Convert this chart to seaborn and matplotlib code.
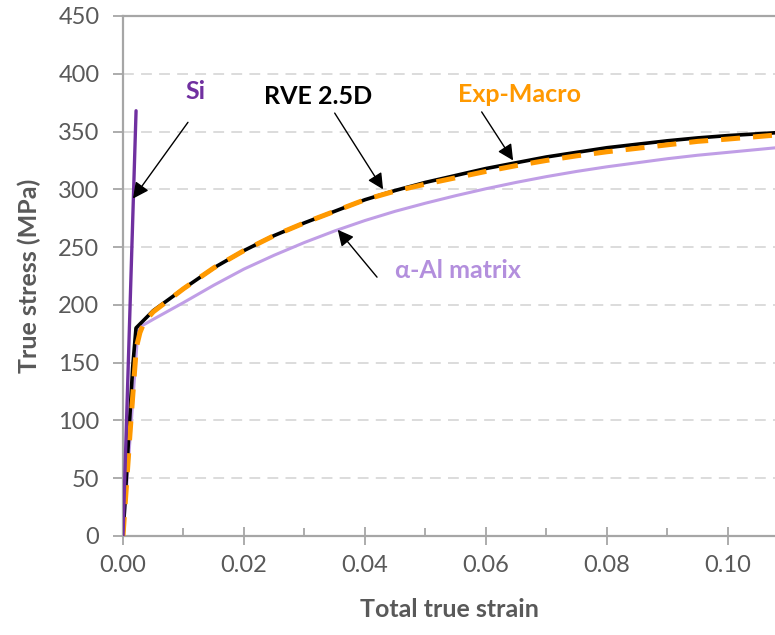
import matplotlib
matplotlib.use("Agg")
import matplotlib.pyplot as plt
import seaborn as sns
import pandas as pd
import numpy as np

# Stress-strain data (strain in -, stress in MPa)
si_strain = [0.0, 0.00216]
si_stress = [0.0, 368.0]

rve_strain = [0.0, 0.0016, 0.00215, 0.005, 0.010, 0.015, 0.020, 0.025,
              0.030, 0.035, 0.040, 0.045, 0.050, 0.055, 0.060, 0.065,
              0.070, 0.075, 0.080, 0.085, 0.090, 0.095, 0.100, 0.108]
rve_stress = [0.0, 146.0, 180.0, 195.0, 214.0, 232.0, 247.0, 260.0,
              271.0, 281.0, 291.0, 299.0, 306.0, 312.0, 318.0, 323.0,
              328.0, 332.0, 336.0, 339.0, 342.0, 344.5, 346.5, 349.0]

exp_strain = [0.0, 0.0012, 0.0022, 0.0028, 0.0035, 0.005, 0.010, 0.015,
              0.020, 0.025, 0.030, 0.035, 0.040, 0.045, 0.050, 0.055,
              0.060, 0.065, 0.070, 0.075, 0.080, 0.085, 0.090, 0.095,
              0.100, 0.108]
exp_stress = [0.0, 92.0, 163.0, 176.0, 185.0, 194.0, 214.0, 232.0,
              247.0, 260.0, 271.0, 281.0, 291.0, 298.5, 304.5, 310.0,
              315.5, 320.5, 325.0, 329.0, 332.5, 335.5, 338.5, 341.5,
              343.5, 347.0]

al_strain = [0.0, 0.0025, 0.005, 0.010, 0.015, 0.020, 0.025, 0.030,
             0.035, 0.040, 0.045, 0.050, 0.055, 0.060, 0.065, 0.070,
             0.075, 0.080, 0.085, 0.090, 0.095, 0.100, 0.108]
al_stress = [0.0, 180.0, 187.5, 202.0, 217.0, 231.0, 243.0, 254.0,
             264.0, 273.0, 281.0, 288.0, 294.5, 300.5, 306.0, 311.0,
             315.5, 319.5, 323.0, 326.5, 329.5, 332.0, 336.0]

x_ticks = [0.00, 0.02, 0.04, 0.06, 0.08, 0.10]
y_ticks = [0, 50, 100, 150, 200, 250, 300, 350, 400, 450]

sns.set_theme(style="white")
plt.rcParams["font.family"] = ["Lato", "DejaVu Sans"]

GREY_TXT = "#595959"
GREY_AX = "#A6A6A6"
C_SI = "#7030A0"
C_AL = "#C09EE6"
C_EXP = "#FF9900"
C_AL_TXT = "#B38FDD"

fig = plt.figure(figsize=(7.75, 6.35), dpi=100)
ax = fig.add_axes([123 / 775, 1 - 536 / 635, 1 - 123 / 775, (536 - 16) / 635])

df_al = pd.DataFrame({"strain": al_strain, "stress": al_stress})
df_rve = pd.DataFrame({"strain": rve_strain, "stress": rve_stress})
df_exp = pd.DataFrame({"strain": exp_strain, "stress": exp_stress})
df_si = pd.DataFrame({"strain": si_strain, "stress": si_stress})

sns.lineplot(data=df_al, x="strain", y="stress", ax=ax, color=C_AL,
             linewidth=2.2, sort=False, estimator=None, zorder=3)
sns.lineplot(data=df_rve, x="strain", y="stress", ax=ax, color="black",
             linewidth=2.6, sort=False, estimator=None, zorder=4)
exp_line = sns.lineplot(data=df_exp, x="strain", y="stress", ax=ax, color=C_EXP,
                        linewidth=3.6, sort=False, estimator=None, zorder=5).lines[-1]
exp_line.set_dashes([3.8, 2.6])
exp_line.set_dash_joinstyle("round")
sns.lineplot(data=df_si, x="strain", y="stress", ax=ax, color=C_SI,
             linewidth=2.4, sort=False, estimator=None, zorder=6)
for ln in ax.lines:
    ln.set_solid_joinstyle("round")

ax.set_xlim(0, 0.1078)
ax.set_ylim(0, 450)
ax.set_xticks(x_ticks)
ax.set_xticklabels([f"{v:.2f}" for v in x_ticks])
ax.set_xticks(np.arange(0.01, 0.11, 0.02), minor=True)
ax.set_yticks(y_ticks)
ax.set_yticklabels([str(v) for v in y_ticks])

# horizontal dashed gridlines
for yv in y_ticks[1:-1]:
    ax.axhline(yv, color="#D9D9D9", linewidth=1.3, dashes=(6, 4), zorder=1)

for side in ["left", "bottom", "top"]:
    ax.spines[side].set_visible(True)
    ax.spines[side].set_color(GREY_AX)
    ax.spines[side].set_linewidth(1.6)
ax.spines["right"].set_visible(False)

ax.tick_params(axis="y", which="major", direction="out", length=7, width=1.3,
               color=GREY_AX, labelcolor=GREY_TXT, labelsize=17, pad=10, left=True)
ax.tick_params(axis="x", which="major", direction="inout", length=13, width=1.3,
               color=GREY_AX, labelcolor=GREY_TXT, labelsize=17, pad=7, bottom=True)
ax.tick_params(axis="x", which="minor", direction="in", length=6, width=1.3,
               color=GREY_AX, bottom=True)

ax.set_xlabel("Total true strain", fontsize=18, fontweight="bold",
              color=GREY_TXT, labelpad=16)
ax.set_ylabel("True stress (MPa)", fontsize=18, fontweight="bold",
              color=GREY_TXT, labelpad=12)

arrow = dict(arrowstyle="-|>", color="black", lw=1.0, mutation_scale=24,
             shrinkA=0, shrinkB=0)

ax.annotate("", xy=(0.00165, 292), xytext=(0.01074, 358), arrowprops=arrow, zorder=7)
ax.annotate("", xy=(0.0430, 300), xytext=(0.0350, 366), arrowprops=arrow, zorder=7)
ax.annotate("", xy=(0.0645, 325), xytext=(0.0593, 367), arrowprops=arrow, zorder=7)
ax.annotate("", xy=(0.0355, 265), xytext=(0.0420, 224), arrowprops=arrow, zorder=7)

ax.text(0.01207, 385, "Si", color=C_SI, fontsize=18, fontweight="bold",
        ha="center", va="center")
ax.text(0.0322, 380, "RVE 2.5D", color="black", fontsize=18, fontweight="bold",
        ha="center", va="center")
ax.text(0.0656, 382, "Exp-Macro", color=C_EXP, fontsize=18, fontweight="bold",
        ha="center", va="center")
ax.text(0.0554, 230, "α-Al matrix", color=C_AL_TXT, fontsize=18, fontweight="bold",
        ha="center", va="center")

fig.savefig("out.png", dpi=100)
